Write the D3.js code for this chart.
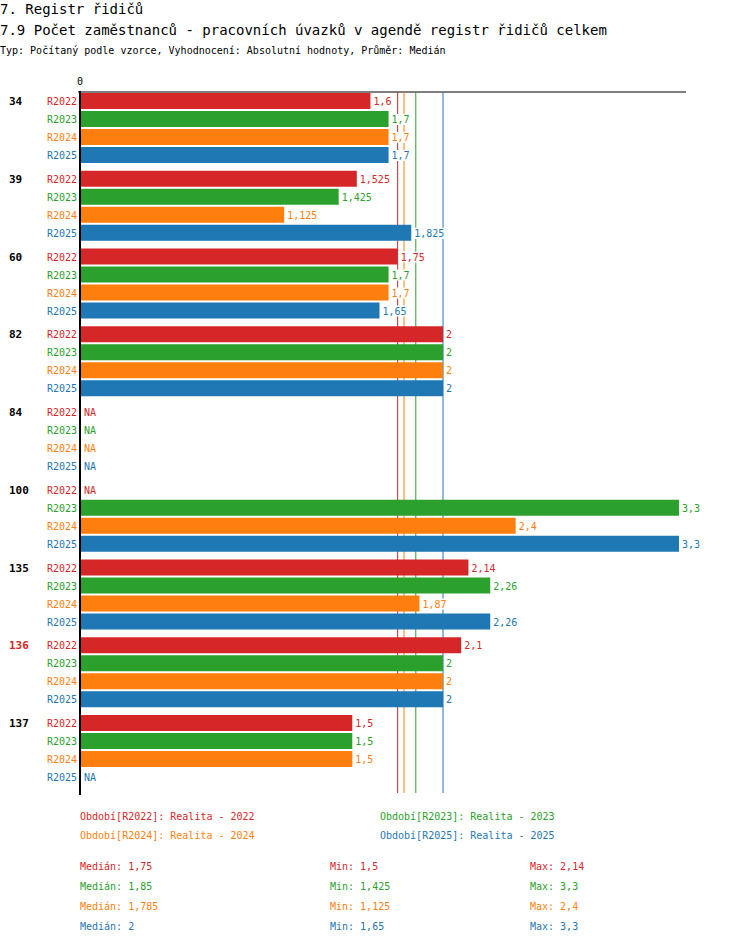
<!DOCTYPE html>
<html><head><meta charset="utf-8">
<script src="https://cdn.jsdelivr.net/npm/d3@7"></script>
<style>body{margin:0;background:#fff}text{font-family:"DejaVu Sans Mono",monospace}</style>
</head><body><svg id="c" width="750" height="944"></svg>
<script>
const groups = ['34', '39', '60', '82', '84', '100', '135', '136', '137'];
const series = ['R2022', 'R2023', 'R2024', 'R2025'];
const colors = ['#d62728', '#2ca02c', '#ff7f0e', '#1f77b4'];
const values = [
  [1.6, 1.7, 1.7, 1.7],
  [1.525, 1.425, 1.125, 1.825],
  [1.75, 1.7, 1.7, 1.65],
  [2, 2, 2, 2],
  [null, null, null, null],
  [null, 3.3, 2.4, 3.3],
  [2.14, 2.26, 1.87, 2.26],
  [2.1, 2, 2, 2],
  [1.5, 1.5, 1.5, null]
];
const highlight = '136';
const medians = [1.75, 1.85, 1.785, 2];
const mins = [1.5, 1.425, 1.125, 1.65];
const maxs = [2.14, 3.3, 2.4, 3.3];
const legend = ['Období[R2022]: Realita - 2022', 'Období[R2023]: Realita - 2023', 'Období[R2024]: Realita - 2024', 'Období[R2025]: Realita - 2025'];

const fmt = v => String(v).replace('.', ',');
const svg = d3.select('#c');
const x = d3.scaleLinear().domain([0, 3.3]).range([80, 679]);
const rowY = (g, s) => 101 + g * 77.75 + s * 18;

svg.append('text').attr('x', 0).attr('y', 14).attr('font-size', 14).text('7. Registr řidičů');
svg.append('text').attr('x', 0).attr('y', 35).attr('font-size', 14).text('7.9 Počet zaměstnanců - pracovních úvazků v agendě registr řidičů celkem');
svg.append('text').attr('x', 0).attr('y', 54).attr('font-size', 10).text('Typ: Počítaný podle vzorce, Vyhodnocení: Absolutní hodnoty, Průměr: Medián');

svg.append('text').attr('x', 80).attr('y', 85).attr('font-size', 10).attr('text-anchor', 'middle').text('0');
svg.append('line').attr('x1', 78).attr('x2', 686).attr('y1', 92).attr('y2', 92).attr('stroke', '#000');

medians.forEach((m, i) => svg.append('line').attr('x1', x(m)).attr('x2', x(m))
  .attr('y1', 92).attr('y2', 793).attr('stroke', colors[i]));

groups.forEach((g, gi) => {
  svg.append('text').attr('x', 9).attr('y', rowY(gi, 0) + 4).attr('font-size', 11).attr('font-weight', 'bold')
    .attr('fill', g === highlight ? '#d62728' : '#000').text(g);
  series.forEach((s, si) => {
    const y = rowY(gi, si), v = values[gi][si];
    svg.append('text').attr('x', 77).attr('y', y + 4).attr('font-size', 10).attr('text-anchor', 'end')
      .attr('fill', colors[si]).text(s);
    if (v != null) svg.append('rect').attr('x', x(0)).attr('y', y - 8).attr('width', x(v) - x(0)).attr('height', 16).attr('fill', colors[si]);
    const lx = v == null ? x(0) + 3 : x(v) + 2;
    const t = v == null ? 'NA' : fmt(v);
    svg.append('rect').attr('x', lx).attr('y', y - 5).attr('width', t.length * 6 + 2).attr('height', 11).attr('fill', '#fff');
    svg.append('text').attr('x', lx + 1).attr('y', y + 4).attr('font-size', 10).attr('fill', v == null && si === 0 && gi === 5 ? '#d62728' : colors[si]).text(t);
  });
});
svg.append('line').attr('x1', 80).attr('x2', 80).attr('y1', 91).attr('y2', 795).attr('stroke', '#000').attr('stroke-width', 2);

legend.forEach((l, i) => svg.append('text').attr('x', i % 2 ? 380 : 80).attr('y', 820 + Math.floor(i / 2) * 19)
  .attr('font-size', 10).attr('fill', colors[i]).text(l));
series.forEach((s, i) => {
  const y = 870 + i * 20;
  svg.append('text').attr('x', 80).attr('y', y).attr('font-size', 10).attr('fill', colors[i]).text('Medián: ' + fmt(medians[i]));
  svg.append('text').attr('x', 330).attr('y', y).attr('font-size', 10).attr('fill', colors[i]).text('Min: ' + fmt(mins[i]));
  svg.append('text').attr('x', 530).attr('y', y).attr('font-size', 10).attr('fill', colors[i]).text('Max: ' + fmt(maxs[i]));
});
</script></body></html>
